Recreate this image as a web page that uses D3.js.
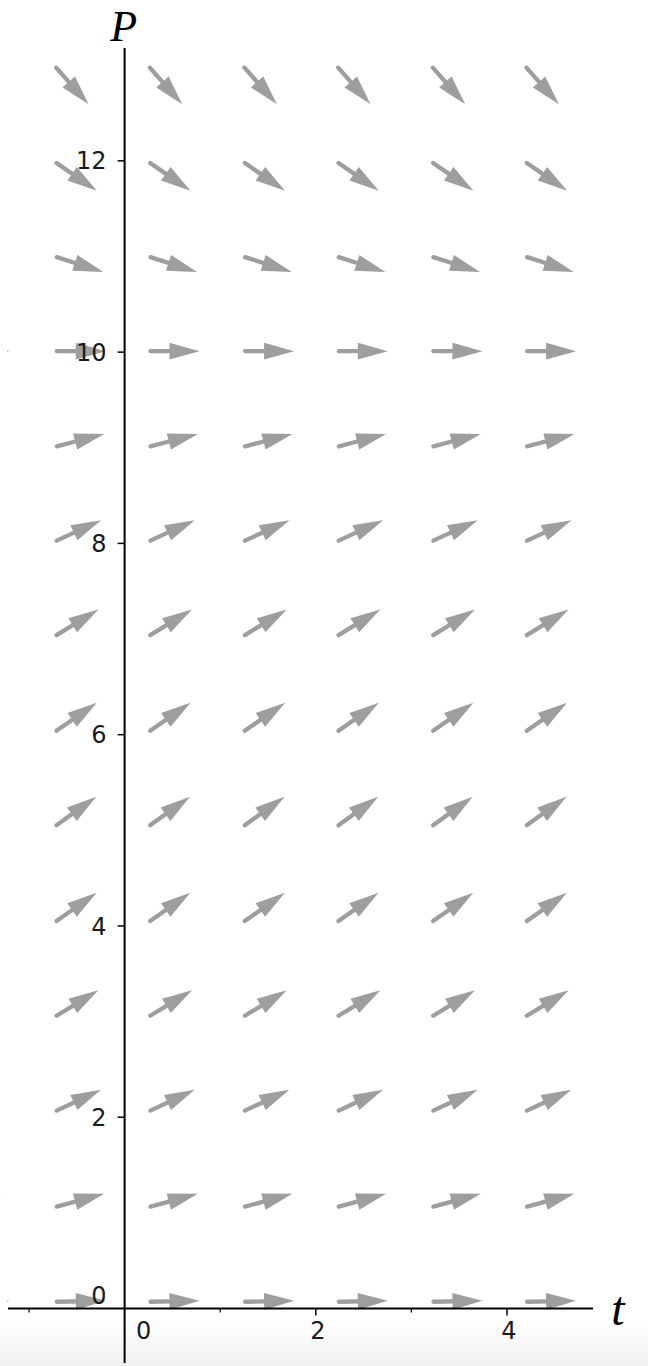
<!DOCTYPE html>
<html>
<head>
<meta charset="utf-8">
<script src="https://cdn.jsdelivr.net/npm/d3@7"></script>
<style>
html,body{margin:0;padding:0;background:#fff;}
svg{display:block;}
</style>
</head>
<body>
<svg id="chart" width="648" height="1366"></svg>
<script>
// Grid of sample points (t columns, P rows)
const tValues = [-1.74, -0.73, 0.25, 1.24, 2.22, 3.21, 4.19];
const pValues = [0.07, 1.06, 2.06, 3.05, 4.04, 5.04, 6.03, 7.03, 8.02, 9.01, 10.01, 11.0, 11.99, 12.99];
// Slope dP/dt of each row, read from the arrow directions
const slopes  = [0.02, 0.27, 0.47, 0.61, 0.70, 0.72, 0.69, 0.61, 0.46, 0.26, 0.0, -0.32, -0.69, -1.13];
// Ticks
const yTickLabels = [0, 2, 4, 6, 8, 10, 12];
const xTickLabels = [0, 2, 4];
const xMinorTicks = [-1, 1, 3];

const svg = d3.select("#chart");

// faint grey band at the bottom of the picture
const defs = svg.append("defs");
const grad = defs.append("linearGradient").attr("id","bottomFade").attr("x1",0).attr("y1",0).attr("x2",0).attr("y2",1);
grad.append("stop").attr("offset","0%").attr("stop-color","#ffffff");
grad.append("stop").attr("offset","100%").attr("stop-color","#f1f1f1");
svg.append("rect").attr("x",0).attr("y",1318).attr("width",648).attr("height",48).attr("fill","url(#bottomFade)");

const x = d3.scaleLinear().domain([-1.22, 4.90]).range([8, 593]);
const y = d3.scaleLinear().domain([-0.57, 13.18]).range([1363, 48]);

defs.append("clipPath").attr("id","plotClip")
  .append("rect").attr("x", 7).attr("y", 0).attr("width", 641).attr("height", 1366);

// slope field arrows
const L = 51, headLen = 30, headHalf = 8.3, shaftW = 4.3;
const arrowColor = "#9e9e9e";
const arrows = [];
tValues.forEach(t => {
  pValues.forEach((p, i) => arrows.push({t, p, s: slopes[i]}));
});
const g = svg.append("g").attr("clip-path", "url(#plotClip)");
arrows.forEach(a => {
  const x0 = x(a.t), y0 = y(a.p);
  // direction in pixel space (scales are equal per unit)
  const dxu = x(a.t + 1) - x(a.t);
  const dyu = y(a.p + a.s) - y(a.p);
  const n = Math.hypot(dxu, dyu);
  const ux = dxu / n, uy = dyu / n;
  const px = -uy, py = ux;
  const sx = x0 + ux * 2, sy = y0 + uy * 2;
  const bx = x0 + ux * (L - headLen), by = y0 + uy * (L - headLen);
  const tx = x0 + ux * L, ty = y0 + uy * L;
  g.append("line")
    .attr("x1", sx).attr("y1", sy)
    .attr("x2", bx + ux * 2).attr("y2", by + uy * 2)
    .attr("stroke", arrowColor).attr("stroke-width", shaftW).attr("stroke-linecap", "round");
  g.append("path")
    .attr("d", `M${tx},${ty}L${bx + px * headHalf},${by + py * headHalf}L${bx - px * headHalf},${by - py * headHalf}Z`)
    .attr("fill", arrowColor);
});

// axes
const axisG = svg.append("g");
axisG.append("line").attr("x1", x(-1.22)).attr("x2", x(4.90)).attr("y1", y(0)).attr("y2", y(0))
  .attr("stroke", "#000").attr("stroke-width", 2);
axisG.append("line").attr("x1", x(0)).attr("x2", x(0)).attr("y1", y(13.18)).attr("y2", y(-0.57))
  .attr("stroke", "#000").attr("stroke-width", 2);

// y ticks
yTickLabels.filter(v => v !== 0).forEach(v => {
  axisG.append("line").attr("x1", x(0) - 7).attr("x2", x(0)).attr("y1", y(v)).attr("y2", y(v))
    .attr("stroke", "#000").attr("stroke-width", 1.5);
});
// x ticks
xTickLabels.filter(v => v !== 0).forEach(v => {
  axisG.append("line").attr("x1", x(v)).attr("x2", x(v)).attr("y1", y(0)).attr("y2", y(0) + 7)
    .attr("stroke", "#000").attr("stroke-width", 1.5);
});
xMinorTicks.forEach(v => {
  axisG.append("line").attr("x1", x(v)).attr("x2", x(v)).attr("y1", y(0)).attr("y2", y(0) + 4)
    .attr("stroke", "#000").attr("stroke-width", 1.2);
});

const fontFam = "'DejaVu Sans', sans-serif";
const fs = 24;
// y tick labels
yTickLabels.forEach(v => {
  axisG.append("text")
    .attr("x", x(0) - 18)
    .attr("y", v === 0 ? y(0) - 13 : y(v))
    .attr("dy", "0.36em")
    .attr("text-anchor", "end")
    .attr("font-family", fontFam).attr("font-size", fs).attr("fill", "#1a1a1a")
    .text(v);
});
// x tick labels
xTickLabels.forEach(v => {
  axisG.append("text")
    .attr("x", v === 0 ? x(0) + 19 : x(v) + 2)
    .attr("y", y(0) + 31)
    .attr("text-anchor", "middle")
    .attr("font-family", fontFam).attr("font-size", fs).attr("fill", "#1a1a1a")
    .text(v);
});

// axis titles
svg.append("text").attr("x", x(0) - 1).attr("y", 41)
  .attr("text-anchor", "middle")
  .attr("font-family", "'Liberation Serif', 'DejaVu Serif', serif").attr("font-style", "italic")
  .attr("font-size", 44).attr("fill", "#000").text("P");
svg.append("text").attr("x", 618).attr("y", 1325)
  .attr("text-anchor", "middle")
  .attr("font-family", "'Liberation Serif', 'DejaVu Serif', serif").attr("font-style", "italic")
  .attr("font-size", 48).attr("fill", "#000").text("t");
</script>
</body>
</html>
